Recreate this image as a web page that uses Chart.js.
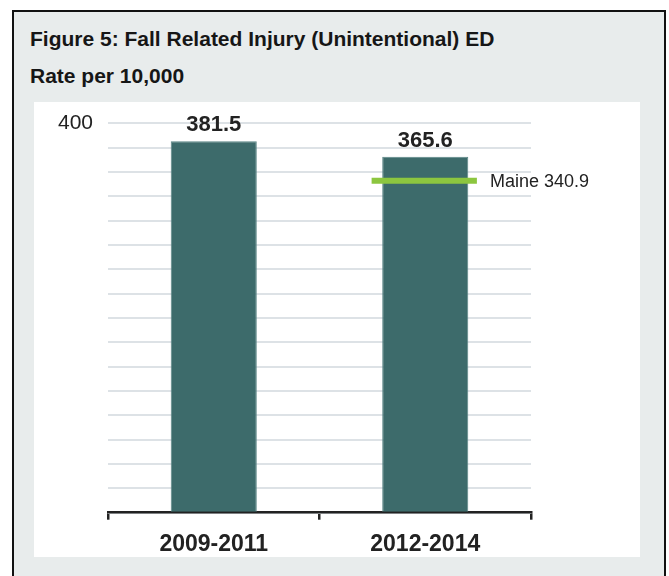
<!DOCTYPE html>
<html>
<head>
<meta charset="utf-8">
<script src="https://cdn.jsdelivr.net/npm/chart.js@4.4.1/dist/chart.umd.min.js"></script>
<style>
  html, body { margin: 0; padding: 0; background: #fff; }
  body { width: 669px; height: 576px; position: relative; overflow: hidden;
         font-family: "Liberation Sans", Arial, sans-serif; }
  .frame { position: absolute; left: 12px; top: 10px; width: 650px; height: 600px;
           border: 2px solid #111; background: #e8ecec; }
  .title { position: absolute; left: 30px; top: 21px; font-size: 21px; font-weight: bold;
           line-height: 36.7px; color: #161616; white-space: nowrap; }
  #chartWrap { position: absolute; left: 34px; top: 102px; width: 606px; height: 455px; background: #fff; }
</style>
</head>
<body>
<div class="frame"></div>
<div class="title">Figure 5: Fall Related Injury (Unintentional) ED<br>Rate per 10,000</div>
<div id="chartWrap"><canvas id="chart" width="606" height="455"></canvas></div>
<script>
// data
const categories = ["2009-2011", "2012-2014"];
const rates = [381.5, 365.6];
const maineRate = 340.9;
const maineLabel = "Maine";
const yMax = 400;
const yStep = 25;
const yShownTicks = [400];

const FONT = '"Liberation Sans", Arial, sans-serif';

// value labels above the bars
const barLabels = {
    id: "barLabels",
    afterDatasetsDraw(chart) {
        const ctx = chart.ctx;
        const meta = chart.getDatasetMeta(0);
        ctx.save();
        ctx.font = "bold 22px " + FONT;
        ctx.fillStyle = "#222";
        ctx.textAlign = "center";
        ctx.textBaseline = "alphabetic";
        meta.data.forEach((bar, i) => {
            ctx.fillText(rates[i].toFixed(1), bar.x, bar.y - 10);
        });
        ctx.restore();
    }
};

// state reference line drawn on the last bar
const maineMarker = {
    id: "maineMarker",
    afterDatasetsDraw(chart) {
        const ctx = chart.ctx;
        const bar = chart.getDatasetMeta(0).data[1];
        const y = chart.scales.y.getPixelForValue(maineRate);
        const half = bar.width * 0.6;
        ctx.save();
        ctx.strokeStyle = "#8cc63f";
        ctx.lineWidth = 6;
        ctx.beginPath();
        ctx.moveTo(bar.x - half - 2, y);
        ctx.lineTo(bar.x + half, y);
        ctx.stroke();
        ctx.font = "18px " + FONT;
        ctx.fillStyle = "#222";
        ctx.textAlign = "left";
        ctx.textBaseline = "alphabetic";
        ctx.fillText(maineLabel + " " + maineRate.toFixed(1), bar.x + half + 13, y + 6.5);
        ctx.restore();
    }
};

new Chart(document.getElementById("chart"), {
    type: "bar",
    data: {
        labels: categories,
        datasets: [{
            data: rates,
            backgroundColor: "#3d6b6b",
            borderColor: "#5a8585",
            borderWidth: 1,
            barPercentage: 0.407,
            categoryPercentage: 1
        }]
    },
    options: {
        responsive: false,
        devicePixelRatio: 1,
        animation: false,
        layout: { padding: { left: 0, top: 21.3, right: 109, bottom: 0 } },
        plugins: { legend: { display: false }, tooltip: { enabled: false } },
        scales: {
            x: {
                offset: true,
                afterFit: s => { s.height = 44.3; },
                grid: { offset: true, drawOnChartArea: false, color: "#222", lineWidth: 2.5, tickLength: 7 },
                border: { color: "#222", width: 2.5 },
                ticks: { color: "#222", font: { family: FONT, size: 23, weight: "bold" }, padding: 11 }
            },
            y: {
                min: 0,
                max: yMax,
                afterFit: s => { s.width = 74; s.paddingTop = 0; s.paddingBottom = 0; },
                grid: { color: "#dde2e6", lineWidth: 2, drawTicks: false },
                border: { display: false },
                ticks: {
                    stepSize: yStep,
                    autoSkip: false,
                    padding: 15,
                    color: "#222",
                    font: { family: FONT, size: 21 },
                    callback: v => yShownTicks.includes(v) ? String(v) : ""
                }
            }
        }
    },
    plugins: [barLabels, maineMarker]
});
</script>
</body>
</html>
